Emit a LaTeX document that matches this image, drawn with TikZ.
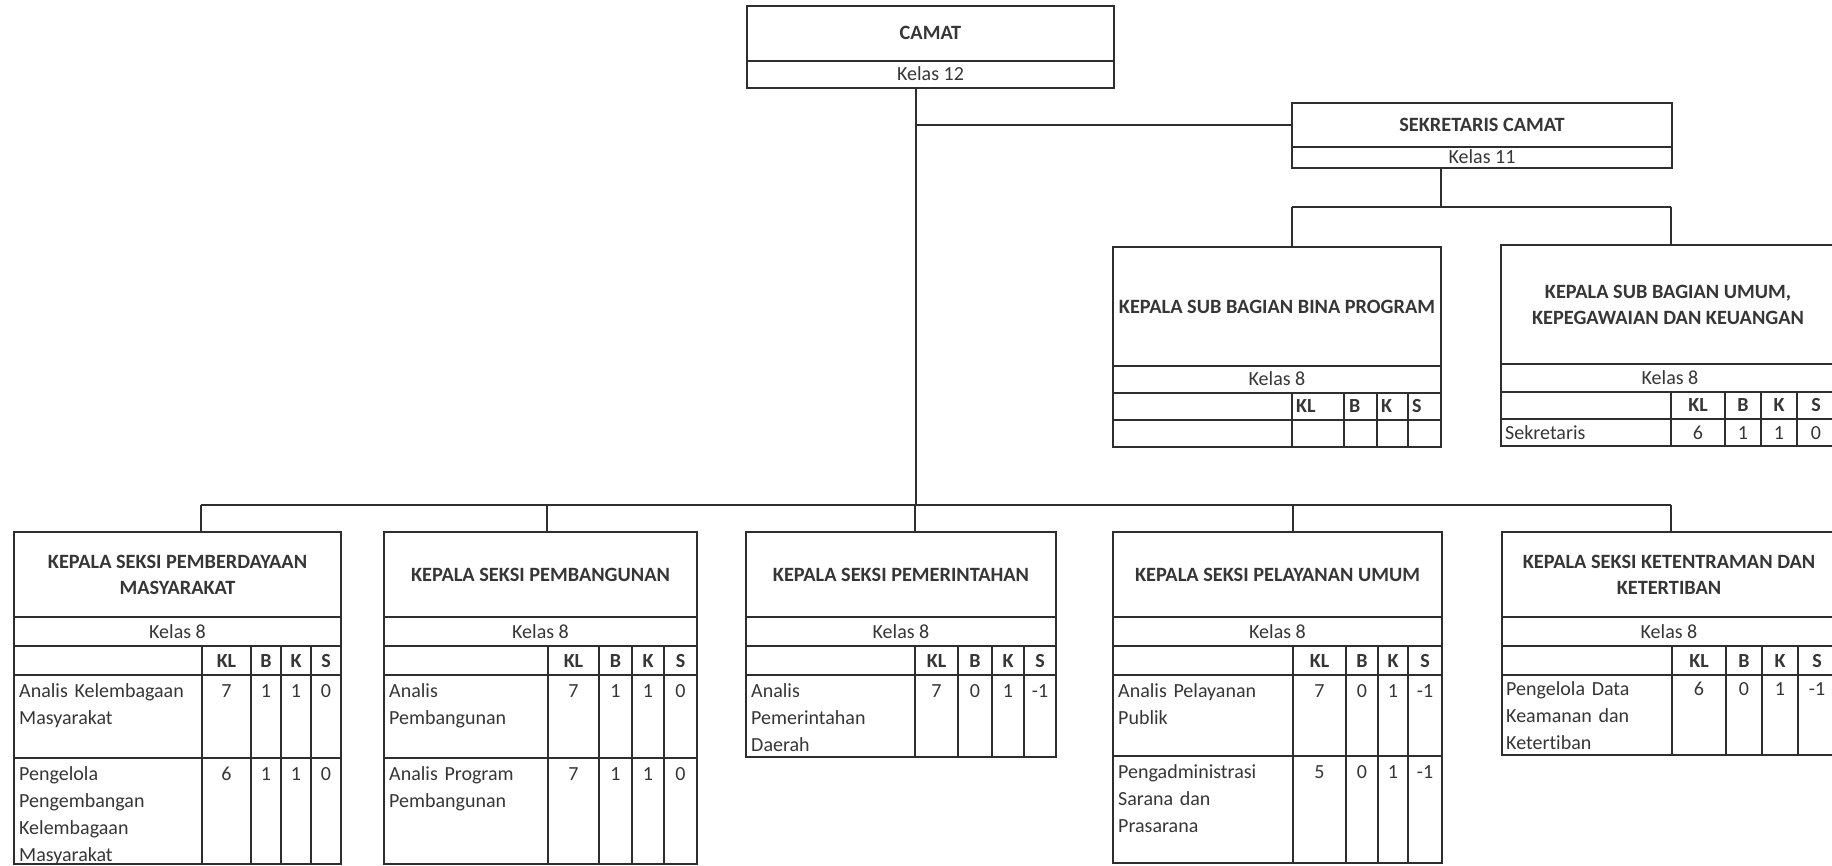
\documentclass[tikz,border=0pt]{standalone}
\usepackage{fontspec}
\setmainfont{Carlito}[Ligatures=NoCommon]
\definecolor{ink}{HTML}{363636}
\definecolor{linec}{HTML}{2E2E2E}
\tikzset{
  boxline/.style={draw=linec, line width=1.7pt},
  conn/.style={draw=linec, line width=2.7pt},
  frame/.style={boxline, rectangle, inner sep=0pt, outer sep=0pt, anchor=north west},
  ttl/.style={font=\fontsize{20.3}{26}\selectfont\bfseries, text=ink, align=center, inner sep=0pt},
  body/.style={font=\fontsize{20}{27}\selectfont, text=ink, inner sep=0pt},
  hdr/.style={font=\fontsize{20}{27}\selectfont\bfseries, text=ink, inner sep=0pt},
  rowtxt/.style={body, anchor=base west, align=left, text width=170pt},
}
% name, left, right, KL, B, K, S, bottom, title
\newcommand{\skbox}[9]{%
  \node[frame, minimum width={#3-#2}, minimum height={#8-532}] (#1) at (#2,532) {};
  \draw[boxline] (#2,617) -- (#3,617) (#2,646) -- (#3,646) (#2,675) -- (#3,675);
  \draw[boxline] (#4,646) -- (#4,#8) (#5,646) -- (#5,#8) (#6,646) -- (#6,#8) (#7,646) -- (#7,#8);
  \node[ttl] at ({(#2+#3)/2},575) {#9};
  \node[body, anchor=base] at ({(#2+#3)/2},638) {Kelas 8};
  \node[hdr, anchor=base] at ({(#4+#5)/2},667) {KL};
  \node[hdr, anchor=base] at ({(#5+#6)/2},667) {B};
  \node[hdr, anchor=base] at ({(#6+#7)/2},667) {K};
  \node[hdr, anchor=base] at ({(#7+#3)/2},667) {S};
}
% y, c1, c2, c3, c4, v1, v2, v3, v4
\newcommand{\vals}[9]{%
  \node[body, anchor=base] at (#2,#1) {#6};
  \node[body, anchor=base] at (#3,#1) {#7};
  \node[body, anchor=base] at (#4,#1) {#8};
  \node[body, anchor=base] at (#5,#1) {#9};
}
\begin{document}
\begin{tikzpicture}[x=1pt,y=-1pt]
\clip (0,0) rectangle (1832,866);
\fill[white] (0,0) rectangle (1832,866);

% CAMAT
\node[frame, minimum width=367, minimum height=82] (camat) at (747,6) {};
\draw[boxline] (747,61) -- (1114,61);
\node[ttl, anchor=base] at (930.5,40) {CAMAT};
\node[body, anchor=base] at (930.5,81) {Kelas 12};

% SEKRETARIS CAMAT
\node[frame, minimum width=380, minimum height=65] (sek) at (1292,103) {};
\draw[boxline] (1292,147) -- (1672,147);
\node[ttl, anchor=base] at (1482,131.5) {SEKRETARIS CAMAT};
\node[body, anchor=base] at (1482,164) {Kelas 11};

% KEPALA SUB BAGIAN BINA PROGRAM
\node[frame, minimum width=328, minimum height=200] (bina) at (1113,247) {};
\draw[boxline] (1113,366) -- (1441,366) (1113,393) -- (1441,393) (1113,420) -- (1441,420);
\draw[boxline] (1292,393) -- (1292,447) (1344,393) -- (1344,447) (1377,393) -- (1377,447) (1408,393) -- (1408,447);
\node[ttl] at (1277,306.5) {KEPALA SUB BAGIAN BINA PROGRAM};
\node[body, anchor=base] at (1277,386) {Kelas 8};
\node[hdr, anchor=base west] at (1296,413) {KL};
\node[hdr, anchor=base west] at (1349,413) {B};
\node[hdr, anchor=base west] at (1381,413) {K};
\node[hdr, anchor=base west] at (1412,413) {S};

% KEPALA SUB BAGIAN UMUM
\node[frame, minimum width=335, minimum height=201] (umum) at (1501,245) {};
\draw[boxline] (1501,364) -- (1836,364) (1501,392) -- (1836,392) (1501,419) -- (1836,419);
\draw[boxline] (1671,392) -- (1671,446) (1725,392) -- (1725,446) (1761,392) -- (1761,446) (1797,392) -- (1797,446);
\node[ttl] at (1668,304.5) {KEPALA SUB BAGIAN UMUM,\\KEPEGAWAIAN DAN KEUANGAN};
\node[body, anchor=base] at (1670,384.5) {Kelas 8};
\node[hdr, anchor=base] at (1698,412) {KL};
\node[hdr, anchor=base] at (1743,412) {B};
\node[hdr, anchor=base] at (1779,412) {K};
\node[hdr, anchor=base] at (1816,412) {S};
\node[body, anchor=base west] at (1505,439) {Sekretaris};
\vals{439}{1698}{1743}{1779}{1816}{6}{1}{1}{0}

% Lower boxes
\skbox{s1}{14}{341}{202}{251}{281}{311}{864}{KEPALA SEKSI PEMBERDAYAAN\\MASYARAKAT}
\draw[boxline] (14,758) -- (341,758);
\node[rowtxt] at (19,697) {Analis Kelembagaan\\Masyarakat};
\vals{697}{226.5}{266}{296}{326}{7}{1}{1}{0}
\node[rowtxt] at (19,780) {Pengelola\\Pengembangan\\Kelembagaan\\Masyarakat};
\vals{780}{226.5}{266}{296}{326}{6}{1}{1}{0}

\skbox{s2}{384}{697}{548}{599}{632}{664}{864}{KEPALA SEKSI PEMBANGUNAN}
\draw[boxline] (384,758) -- (697,758);
\node[rowtxt] at (389,697) {Analis\\Pembangunan};
\vals{697}{573.5}{615.5}{648}{680.5}{7}{1}{1}{0}
\node[rowtxt] at (389,780) {Analis Program\\Pembangunan};
\vals{780}{573.5}{615.5}{648}{680.5}{7}{1}{1}{0}

\skbox{s3}{746}{1056}{915}{958}{992}{1024}{757}{KEPALA SEKSI PEMERINTAHAN}
\node[rowtxt] at (751,697) {Analis\\Pemerintahan\\Daerah};
\vals{697}{936.5}{975}{1008}{1040}{7}{0}{1}{-1}

\skbox{s4}{1113}{1442}{1293}{1346}{1378}{1408}{863}{KEPALA SEKSI PELAYANAN UMUM}
\draw[boxline] (1113,756) -- (1442,756);
\node[rowtxt] at (1118,697) {Analis Pelayanan\\Publik};
\vals{697}{1319.5}{1362}{1393}{1425}{7}{0}{1}{-1}
\node[rowtxt] at (1118,778) {Pengadministrasi\\Sarana dan\\Prasarana};
\vals{778}{1319.5}{1362}{1393}{1425}{5}{0}{1}{-1}

\skbox{s5}{1502}{1836}{1672}{1726}{1762}{1798}{755}{KEPALA SEKSI KETENTRAMAN DAN\\KETERTIBAN}
\node[rowtxt] at (1506,695) {Pengelola Data\\Keamanan dan\\Ketertiban};
\vals{695}{1699}{1744}{1780}{1817}{6}{0}{1}{-1}

% Connectors
\coordinate (tr) at (916,505);
\coordinate (sb) at (916,125);
\draw[conn] (camat.south -| tr) -- (tr);
\draw[conn] (sb) -- (sb -| sek.west);
\coordinate (e0) at (1441,207);
\coordinate (e1) at (1292,207);
\coordinate (e2) at (1671,207);
\draw[conn] (sek.south -| e0) -- (e0);
\draw[conn] (e1) -- (e2);
\draw[conn] (e1) -- (e1 |- bina.north);
\draw[conn] (e2) -- (e2 |- umum.north);
\coordinate (d1) at (201,505);
\coordinate (d2) at (547,505);
\coordinate (d3) at (915,505);
\coordinate (d4) at (1293,505);
\coordinate (d5) at (1671,505);
\draw[conn] (d1) -- (d5);
\draw[conn] (d1) -- (d1 |- s1.north);
\draw[conn] (d2) -- (d2 |- s2.north);
\draw[conn] (d3) -- (d3 |- s3.north);
\draw[conn] (d4) -- (d4 |- s4.north);
\draw[conn] (d5) -- (d5 |- s5.north);
\end{tikzpicture}
\end{document}
